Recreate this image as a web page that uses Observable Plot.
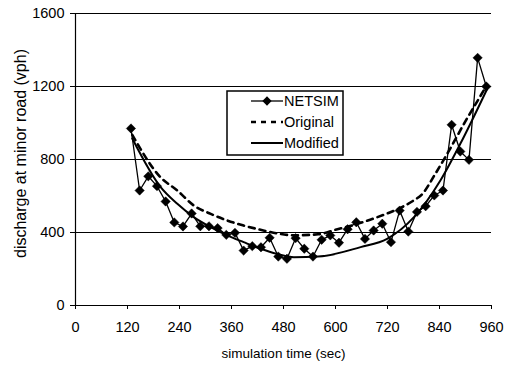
<!DOCTYPE html>
<html><head><meta charset="utf-8">
<script src="https://cdn.jsdelivr.net/npm/d3@7"></script>
<script src="https://cdn.jsdelivr.net/npm/@observablehq/plot@0.6"></script>
<style>
body{margin:0;background:#fff;font-family:"Liberation Sans",Arial,sans-serif}
#wrap{position:relative;width:514px;height:372px;overflow:hidden}
</style></head><body>
<div id="wrap"></div>
<script>
const netsimTime = [128,148,168,188,208,228,248,268,288,308,328,348,368,388,408,428,448,468,488,508,528,548,568,588,608,628,648,668,688,708,728,748,768,788,808,828,848,868,888,908,928,948];
const netsimValue = [970,630,708,654,570,455,433,504,434,434,424,387,398,301,325,319,371,268,256,369,311,268,360,384,344,418,456,365,411,448,347,520,405,513,544,603,630,990,844,798,1357,1200];
const originalTime = [131,196,235,273,312,350,388,427,465,504,560,600,640,680,720,750,780,800,830,860,900,930,950];
const originalValue = [935,703,630,548,502,466,438,415,395,385,390,415,440,470,505,535,575,610,720,840,1010,1130,1210];
const modifiedTime = [131,196,235,273,312,350,388,427,465,504,560,658,719,781,842,888,950];
const modifiedValue = [915,650,557,484,429,384,347,311,283,265,268,320,365,484,685,886,1187];
const xTicks = [0,120,240,360,480,600,720,840,960];
const yTicks = [0,400,800,1200,1600];
const seriesNames = ["NETSIM","Original","Modified"];
const xLabel = "simulation time (sec)";
const yLabel = "discharge at minor road (vph)";

const netsim = netsimTime.map((t,i)=>({t, v:netsimValue[i]}));
const original = originalTime.map((t,i)=>({t, v:originalValue[i]}));
const modified = modifiedTime.map((t,i)=>({t, v:modifiedValue[i]}));

const chart = Plot.plot({
  width:514, height:372,
  marginLeft:75, marginRight:23, marginTop:13, marginBottom:67,
  x:{domain:[0,960]}, y:{domain:[0,1600]},
  style:{fontFamily:'"Liberation Sans",Arial,sans-serif', fontSize:"14px", color:"#000", background:"#fff"},
  marks:[
    Plot.ruleY(yTicks.filter(d=>d>0), {stroke:"#000", strokeWidth:1}),
    Plot.ruleX([0], {stroke:"#000", strokeWidth:1.2}),
    Plot.ruleY([0], {stroke:"#000", strokeWidth:1.2}),
    Plot.axisX({ticks:xTicks, tickSize:4, tickPadding:12, label:null, fontSize:14.5}),
    Plot.axisY({ticks:yTicks, tickSize:5, tickPadding:6, label:null, fontSize:14.5, tickFormat:d=>String(d)}),
    Plot.line(original, {x:"t", y:"v", curve:"monotone-x", stroke:"#000", strokeWidth:2.6, strokeDasharray:"6,5"}),
    Plot.line(modified, {x:"t", y:"v", curve:"monotone-x", stroke:"#000", strokeWidth:2}),
    Plot.line(netsim, {x:"t", y:"v", stroke:"#000", strokeWidth:1.3}),
    Plot.dot(netsim, {x:"t", y:"v", symbol:"diamond2", fill:"#000", stroke:"#000", strokeWidth:0.5, r:4.2}),
    Plot.text([xLabel], {frameAnchor:"bottom", dy:52, fontSize:13.5, text:d=>d}),
    Plot.text([yLabel], {frameAnchor:"left", textAnchor:"middle", dx:-55, dy:-6, rotate:-90, fontSize:16, letterSpacing:"0.5px", text:d=>d})
  ]
});
document.getElementById("wrap").appendChild(chart);

// legend
const lg = d3.create("svg").attr("width",118).attr("height",66)
  .style("position","absolute").style("left","226px").style("top","90px");
lg.append("rect").attr("x",1).attr("y",1).attr("width",116).attr("height",64).attr("fill","#fff").attr("stroke","#000").attr("stroke-width",1.5);
const rows = [
  {name:seriesNames[0], dash:null, w:1.3, marker:true},
  {name:seriesNames[1], dash:"5,5", w:2.6, marker:false},
  {name:seriesNames[2], dash:null, w:2, marker:false}
];
rows.forEach((r,i)=>{
  const y = 11 + i*21;
  const l = lg.append("line").attr("x1",25).attr("x2",57).attr("y1",y).attr("y2",y).attr("stroke","#000").attr("stroke-width",r.w);
  if (r.dash) l.attr("stroke-dasharray", r.dash);
  if (r.marker) lg.append("path").attr("d", d3.symbol(d3.symbolDiamond2, 55)()).attr("transform",`translate(41,${y})`).attr("fill","#000");
  lg.append("text").attr("x",58).attr("y",y).attr("dy","0.35em").attr("font-size",14.5)
    .attr("font-family",'"Liberation Sans",Arial,sans-serif').text(r.name);
});
document.getElementById("wrap").appendChild(lg.node());
</script>
</body></html>
